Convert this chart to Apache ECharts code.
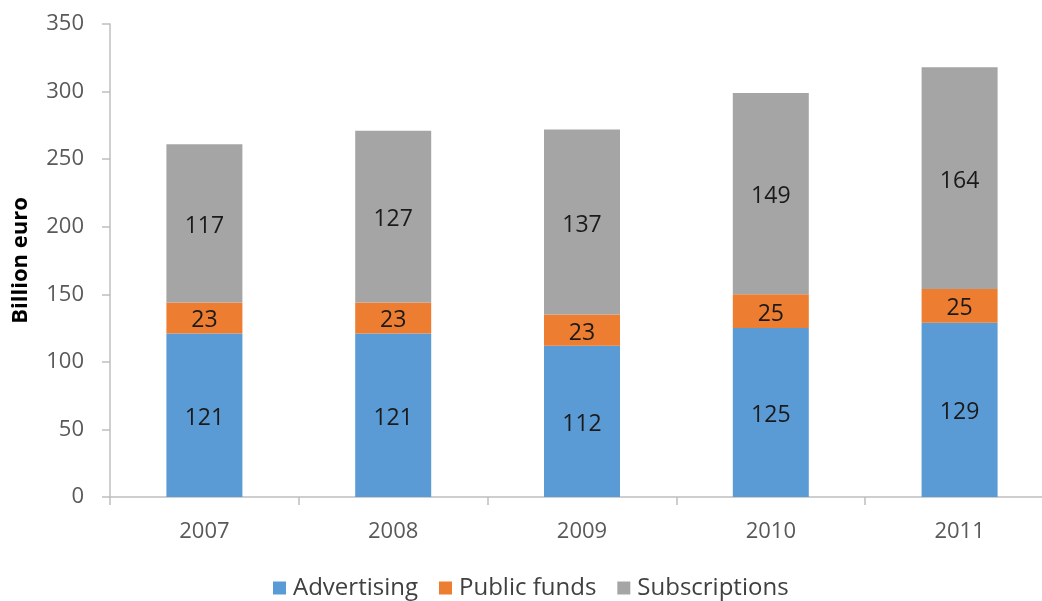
<!DOCTYPE html>
<html>
<head>
<meta charset="utf-8">
<script src="https://cdn.jsdelivr.net/npm/echarts@6/dist/echarts.min.js"></script>
<style>
  html, body { margin: 0; padding: 0; background: #fff; overflow: hidden; }
  /* the plot runs a little past the right edge of the window */
  #chart { width: 1054px; height: 601px; }
</style>
</head>
<body>
<div id="chart"></div>
<script>
// Revenue sources by year, billion euro
const years = ['2007', '2008', '2009', '2010', '2011'];
const advertising = [121, 121, 112, 125, 129];
const publicFunds = [23, 23, 23, 25, 25];
const subscriptions = [117, 127, 137, 149, 164];

const FONT = '"Open Sans", sans-serif';

function stackSeries(name, data, color) {
  return {
    name: name,
    type: 'bar',
    stack: 'total',
    data: data,
    barWidth: 76,
    itemStyle: { color: color },
    label: {
      show: true,
      position: 'inside',
      offset: [0, 3],
      color: '#1a1a1a',
      fontFamily: FONT,
      fontSize: 23
    }
  };
}

const chart = echarts.init(document.getElementById('chart'));
chart.setOption({
  animation: false,
  textStyle: { fontFamily: FONT },
  grid: { left: 110, top: 24, width: 944, height: 473, containLabel: false },
  legend: {
    top: 571,
    left: 268,
    icon: 'rect',
    itemWidth: 13,
    itemHeight: 13,
    itemGap: 21,
    textStyle: { fontFamily: FONT, fontSize: 24, color: '#404040', padding: [0, 0, 0, 2] },
    data: ['Advertising', 'Public funds', 'Subscriptions']
  },
  xAxis: {
    type: 'category',
    data: years,
    axisLine: { lineStyle: { color: '#bfbfbf', width: 1.5 } },
    axisTick: { show: true, length: 8, lineStyle: { color: '#bfbfbf', width: 1.5 } },
    axisLabel: { color: '#595959', fontSize: 22, fontFamily: FONT, margin: 24 }
  },
  yAxis: {
    type: 'value',
    min: 0,
    max: 350,
    interval: 50,
    name: 'Billion euro',
    nameLocation: 'middle',
    nameGap: 78,
    nameTextStyle: { color: '#000', fontWeight: 'bold', fontSize: 22, fontFamily: FONT },
    axisLine: { show: true, lineStyle: { color: '#bfbfbf', width: 1.5 } },
    axisTick: { show: true, length: 8, lineStyle: { color: '#bfbfbf', width: 1.5 } },
    splitLine: { show: false },
    axisLabel: { color: '#595959', fontSize: 22, fontFamily: FONT, margin: 26 }
  },
  series: [
    stackSeries('Advertising', advertising, '#5b9bd5'),
    stackSeries('Public funds', publicFunds, '#ed7d31'),
    stackSeries('Subscriptions', subscriptions, '#a5a5a5')
  ]
});
</script>
</body>
</html>
